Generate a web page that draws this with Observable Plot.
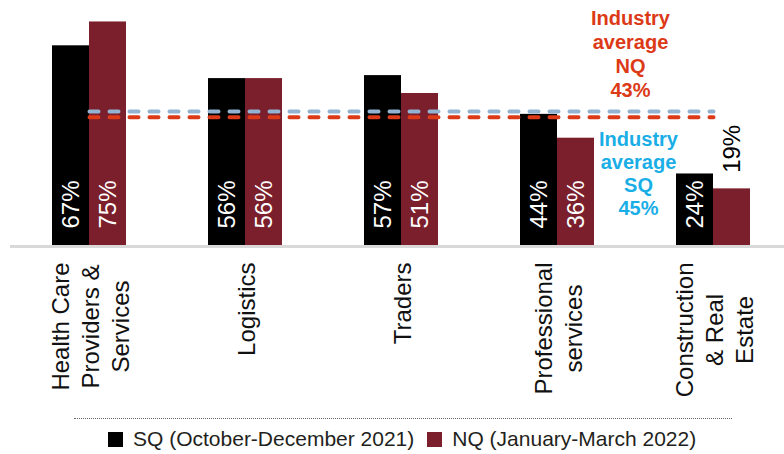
<!DOCTYPE html>
<html>
<head>
<meta charset="utf-8">
<script src="https://cdn.jsdelivr.net/npm/d3@7"></script>
<script src="https://cdn.jsdelivr.net/npm/@observablehq/plot@0.6"></script>
<style>
  body { margin: 0; background: #fff; font-family: "Liberation Sans", Arial, sans-serif; }
  #chart { width: 784px; height: 454px; position: relative; overflow: hidden; }
  .divider { margin: 8px 0 0 74px; width: 658px; height: 0; border-top: 1px dotted #666; }
  .legend { display: flex; align-items: center; margin: 8px 0 0 108px; height: 24px;
            font-size: 21px; color: #231f20; white-space: nowrap; }
  .legend .sw { width: 15px; height: 15px; display: inline-block; margin-right: 10px; }
  .legend .item { display: flex; align-items: center; margin-right: 13px; }
</style>
</head>
<body>
<div id="chart"></div>
<script>
// ---- data ----
const categories = [
  "Health Care Providers & Services",
  "Logistics",
  "Traders",
  "Professional services",
  "Construction & Real Estate"
];
const categoryLabels = [
  "Health Care\nProviders &\nServices",
  "Logistics",
  "Traders",
  "Professional\nservices",
  "Construction\n& Real\nEstate"
];
const sqValues = [67, 56, 57, 44, 24];
const nqValues = [75, 56, 51, 36, 19];
const industryAvgSQ = 45;
const industryAvgNQ = 43;
const seriesNames = ["SQ (October-December 2021)", "NQ (January-March 2022)"];
const seriesColors = ["#000000", "#7a1f2b"];
const annotationNQ = `Industry\naverage\nNQ\n${industryAvgNQ}%`;
const annotationSQ = `Industry\naverage\nSQ\n${industryAvgSQ}%`;

// ---- derived tables ----
const rows = categories.map((c, i) => ({category: c, sq: sqValues[i], nq: nqValues[i]}));
const labelRows = rows.flatMap(r => [
  {category: r.category, series: "SQ", value: r.sq},
  {category: r.category, series: "NQ", value: r.nq}
]);
const insideMin = 20;

const font = '"Liberation Sans", Arial, sans-serif';
const ctx = document.createElement("canvas").getContext("2d");
ctx.font = `24px ${font}`;
const blockLen = (lbl) => d3.max(lbl.split("\n"), l => ctx.measureText(l).width);

const valueLabel = (series, inside) => Plot.text(
  labelRows.filter(d => d.series === series && (d.value >= insideMin) === inside),
  {
    x: "category",
    y: inside ? () => 0 : "value",
    text: d => `${d.value}%`,
    rotate: -90,
    textAnchor: "start",
    lineAnchor: "middle",
    fontSize: 24,
    fill: inside ? "white" : "black",
    dx: series === "SQ" ? -18.5 : 18.5,
    dy: inside ? -17 : -16
  }
);

const plot = Plot.plot({
  width: 784,
  height: 410,
  marginTop: 0,
  marginBottom: 165,
  marginLeft: 10,
  marginRight: 0,
  style: {fontFamily: font, background: "white", overflow: "visible"},
  x: {domain: categories, paddingInner: 0.5272, paddingOuter: 0.2365, align: 0.554, axis: null},
  y: {domain: [0, 82.2], axis: null},
  marks: [
    Plot.ruleY([0], {stroke: "#d9d9d9", strokeWidth: 3, dy: 1}),
    Plot.barY(rows, {x: "category", y: "sq", fill: seriesColors[0], insetRight: 37}),
    Plot.barY(rows, {x: "category", y: "nq", fill: seriesColors[1], insetLeft: 37}),
    Plot.line(categories, {x: d => d, y: () => industryAvgSQ, stroke: "#93b3d2", strokeWidth: 4,
      strokeDasharray: "9,11", strokeLinecap: "round"}),
    Plot.line(categories, {x: d => d, y: () => industryAvgNQ, stroke: "#dc3a17", strokeWidth: 4,
      strokeDasharray: "9,11", strokeLinecap: "round"}),
    valueLabel("SQ", true),
    valueLabel("NQ", true),
    valueLabel("SQ", false),
    valueLabel("NQ", false),
    ...categories.map((c, i) => Plot.text([c], {
      x: d => d,
      text: () => categoryLabels[i],
      frameAnchor: "bottom",
      rotate: -90,
      textAnchor: "middle",
      lineAnchor: "middle",
      lineHeight: 1.26,
      fontSize: 24,
      fill: "#111",
      dy: 17 + blockLen(categoryLabels[i]) / 2
    })),
    Plot.text([categories[4]], {
      x: d => d, y: () => industryAvgNQ, text: () => annotationNQ,
      lineAnchor: "bottom", lineHeight: 1.2, fontSize: 20, fontWeight: "bold",
      fill: "#dc3a17", dx: -83, dy: -20
    }),
    Plot.text([categories[4]], {
      x: d => d, y: () => industryAvgSQ, text: () => annotationSQ,
      lineAnchor: "top", lineHeight: 1.15, fontSize: 20, fontWeight: "bold",
      fill: "#1aaee6", dx: -75, dy: 18
    })
  ]
});

const root = document.getElementById("chart");
root.appendChild(plot);
const divider = document.createElement("div");
divider.className = "divider";
root.appendChild(divider);
const legend = document.createElement("div");
legend.className = "legend";
seriesNames.forEach((name, i) => {
  const item = document.createElement("span");
  item.className = "item";
  const sw = document.createElement("span");
  sw.className = "sw";
  sw.style.background = seriesColors[i];
  item.appendChild(sw);
  item.appendChild(document.createTextNode(name));
  legend.appendChild(item);
});
root.appendChild(legend);
</script>
</body>
</html>
